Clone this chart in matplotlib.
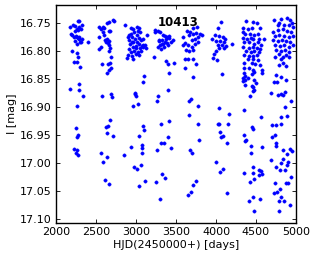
import matplotlib
matplotlib.use("Agg")
import matplotlib.pyplot as plt
import numpy as np

# (HJD-2450000, I mag) per observing season
season1 = [(2175,16.756),(2209,16.752),(2241,16.754),(2271,16.745),(2284,16.746),(2325,16.752),
           (2291,16.756),(2313,16.760),(2271,16.762),(2191,16.768),(2200,16.770),(2234,16.763),
           (2259,16.760),(2229,16.774),(2259,16.774),(2291,16.774),(2325,16.777),(2250,16.772),
           (2279,16.776),(2241,16.782),(2259,16.786),(2300,16.783),(2309,16.784),(2396,16.784),
           (2291,16.778),(2200,16.799),(2259,16.802),(2271,16.810),(2229,16.819),(2259,16.819),
           (2300,16.828),(2175,16.868),(2284,16.859),(2284,16.869),(2341,16.880),(2259,16.898),
           (2254,16.937),(2259,16.953),(2275,16.949),(2229,16.974),(2250,16.982),(2266,16.977),
           (2279,16.986)]
season2 = [(2709,16.744),(2725,16.745),(2666,16.748),(2641,16.750),(2538,16.756),(2591,16.757),
           (2562,16.760),(2604,16.758),(2659,16.764),(2534,16.774),(2604,16.771),(2634,16.777),
           (2666,16.782),(2616,16.780),(2675,16.763),(2591,16.766),(2562,16.792),(2541,16.795),
           (2666,16.789),(2679,16.794),(2654,16.785),(2625,16.783),(2666,16.799),(2687,16.810),
           (2675,16.820),(2646,16.823),(2575,16.823),(2687,16.829),(2634,16.839),(2666,16.833),
           (2571,16.880),(2687,16.876),(2700,16.882),(2675,16.923),(2625,16.936),(2650,16.934),
           (2641,16.946),(2712,16.951),(2559,16.981),(2591,16.998),(2641,16.989),(2616,17.030),
           (2662,17.037)]
season3 = [(2866,16.753),(2938,16.758),(2966,16.760),(3009,16.756),(3041,16.759),(2909,16.770),
           (2938,16.768),(2979,16.765),(3021,16.764),(3054,16.765),(2896,16.774),(2950,16.774),
           (2916,16.780),(2991,16.777),(3034,16.776),(3063,16.780),(3084,16.777),(3137,16.771),
           (2925,16.786),(2966,16.784),(3009,16.784),(3041,16.786),(3084,16.788),(3116,16.789),
           (2909,16.795),(2959,16.792),(3000,16.794),(3050,16.794),(3091,16.792),(3125,16.794),
           (2938,16.801),(2979,16.800),(3021,16.801),(3063,16.800),(2896,16.807),(2950,16.808),
           (3000,16.805),(3041,16.807),(2966,16.813),(2891,16.811),(3000,16.790),(2950,16.783),
           (3070,16.790),(3010,16.770),(3100,16.844),(3084,16.855),(2991,16.874),(3004,16.880),
           (2984,16.877),(2966,16.898),(3025,16.894),(3088,16.934),(3104,16.941),(3041,16.951),
           (2934,16.971),(3075,16.967),(3079,16.973),(2846,16.986),(3071,16.982),(2975,17.006),
           (3012,17.011),(3059,17.004),(3034,17.041),(3116,17.032)]
season4 = [(3241,16.762),(3271,16.764),(3300,16.765),(3237,16.765),(3334,16.770),(3375,16.777),
           (3409,16.776),(3362,16.773),(3391,16.775),(3416,16.773),(3284,16.782),(3291,16.780),
           (3321,16.779),(3325,16.786),(3366,16.784),(3396,16.789),(3434,16.783),(3459,16.780),
           (3341,16.786),(3384,16.785),(3350,16.792),(3300,16.789),(3271,16.792),(3312,16.795),
           (3229,16.810),(3375,16.817),(3396,16.823),(3475,16.821),(3416,16.839),(3396,16.869),
           (3271,16.880),(3259,16.888),(3309,16.929),(3409,16.924),(3396,16.954),(3312,16.963),
           (3354,16.963),(3437,16.973),(3262,16.977),(3329,17.019),(3362,17.027),(3250,17.033),
           (3300,17.064)]
season5 = [(3591,16.775),(3612,16.785),(3634,16.763),(3675,16.765),(3716,16.759),(3759,16.756),
           (3666,16.771),(3709,16.768),(3750,16.767),(3800,16.768),(3696,16.779),(3737,16.777),
           (3779,16.774),(3821,16.771),(3654,16.789),(3696,16.792),(3737,16.786),(3779,16.783),
           (3584,16.788),(3625,16.798),(3666,16.799),(3709,16.798),(3612,16.814),(3716,16.814),
           (3646,16.814),(3616,16.829),(3750,16.823),(3716,16.845),(3659,16.888),(3687,16.886),
           (3771,16.897),(3666,16.914),(3779,16.929),(3791,16.959),(3675,16.976),(3700,16.981),
           (3754,17.032),(3712,17.039),(3687,17.051),(3650,17.057)]
season6 = [(4062,16.747),(4021,16.758),(3991,16.771),(3950,16.778),(4041,16.772),(4084,16.774),
           (4116,16.777),(4000,16.782),(4054,16.782),(4096,16.784),(4021,16.788),(4075,16.789),
           (4125,16.790),(4200,16.786),(4034,16.794),(4104,16.794),(4000,16.800),(3979,16.805),
           (3966,16.811),(4009,16.816),(4071,16.841),(4034,16.901),(4166,16.912),(4029,16.929),
           (4041,16.929),(4154,16.929),(4046,16.945),(4063,16.953),(4091,16.951),(4141,16.964),
           (4000,16.997),(4054,17.016),(4088,17.011),(4134,17.053)]
season7 = [(4375,16.746),(4466,16.748),(4509,16.750),(4341,16.759),(4396,16.760),(4450,16.759),
           (4550,16.758),(4334,16.766),(4366,16.768),(4425,16.768),(4479,16.770),(4521,16.768),
           (4334,16.776),(4384,16.777),(4438,16.776),(4466,16.778),(4541,16.777),(4604,16.777),
           (4354,16.784),(4416,16.784),(4479,16.786),(4521,16.784),(4563,16.788),(4341,16.792),
           (4409,16.794),(4459,16.792),(4509,16.794),(4550,16.795),(4375,16.800),(4438,16.801),
           (4479,16.800),(4534,16.801),(4354,16.807),(4416,16.808),(4466,16.808),(4509,16.807),
           (4396,16.814),(4459,16.814),(4521,16.816),(4354,16.820),(4450,16.821),(4491,16.823),
           (4550,16.824),(4354,16.829),(4416,16.830),(4466,16.833),(4479,16.836),(4575,16.833),
           (4575,16.839),(4366,16.844),(4334,16.847),(4450,16.841),(4479,16.851),(4341,16.853),
           (4500,16.857),(4350,16.838),(4362,16.851),(4404,16.848),(4446,16.862),(4475,16.869),
           (4425,16.880),(4354,16.905),(4559,16.918),(4446,16.935),(4466,16.938),(4362,16.860),
           (4459,16.864),(4466,16.871),(4350,16.950),(4375,16.958),(4366,16.960),(4434,16.970),
           (4438,16.982),(4571,16.971),(4346,17.017),(4425,17.033),(4459,17.017),(4463,17.007),
           (4471,17.028),(4538,17.013),(4534,17.021),(4566,17.014),(4571,17.020),(4459,17.060),
           (4412,17.067),(4550,17.064),(4479,17.085)]
season8 = [(4729,16.744),(4813,16.742),(4884,16.741),(4925,16.744),(4791,16.750),(4854,16.752),
           (4909,16.753),(4959,16.756),(4716,16.765),(4771,16.762),(4834,16.760),(4884,16.764),
           (4938,16.765),(4741,16.772),(4791,16.771),(4854,16.772),(4909,16.774),(4959,16.772),
           (4716,16.780),(4771,16.782),(4825,16.780),(4875,16.782),(4925,16.783),(4741,16.789),
           (4800,16.790),(4854,16.789),(4909,16.792),(4959,16.788),(4750,16.798),(4813,16.800),
           (4866,16.798),(4916,16.801),(4784,16.805),(4875,16.807),(4741,16.810),(4834,16.810),
           (4909,16.810),(4841,16.820),(4784,16.824),(4875,16.827),(4750,16.842),(4813,16.845),
           (4729,16.855),(4759,16.855),(4779,16.753),(4946,16.750),(4809,16.813),(4871,16.852),
           (4684,16.875),(4779,16.878),(4809,16.876),(4834,16.878),(4862,16.872),(4934,16.888),
           (4862,16.899),(4809,16.917),(4884,16.916),(4704,16.932),(4750,16.932),(4813,16.930),
           (4696,16.954),(4741,16.949),(4750,16.963),(4750,16.970),(4841,16.976),(4925,16.974),
           (4950,16.979),(4888,16.984),(4834,16.992),(4816,16.999),(4888,17.004),(4754,17.006),
           (4691,16.994),(4904,16.997),(4804,17.013),(4866,17.013),(4934,17.024),(4741,17.036),
           (4879,17.035),(4900,17.035),(4804,17.046),(4759,17.052),(4721,17.054),(4809,17.061),
           (4854,17.067),(4788,17.067),(4925,17.075),(4788,17.085)]

seasons = [season1, season2, season3, season4, season5, season6, season7, season8]
star_id = "10413"
x_label = "HJD(2450000+) [days]"
y_label = "I [mag]"
x_ticks = [2000, 2500, 3000, 3500, 4000, 4500, 5000]
y_ticks = [16.75, 16.80, 16.85, 16.90, 16.95, 17.00, 17.05, 17.10]

pts = np.array([p for s in seasons for p in s], dtype=float)

fig = plt.figure(figsize=(3.16, 2.59), dpi=100)
ax = fig.add_axes([56/316, 1-223/259, 240/316, 218/259])
ax.plot(pts[:, 0], pts[:, 1], 'o', color='#0000ff', mec='#0000ff', ms=2.4, mew=0.3, ls='none')
ax.set_xlim(2000, 5000)
ax.set_ylim(17.107, 16.717)
ax.set_xticks(x_ticks)
ax.set_yticks(y_ticks)
ax.set_yticklabels([f"{v:.2f}" for v in y_ticks])
ax.tick_params(direction='in', top=True, right=True, length=3, width=0.6, labelsize=8, pad=3)
for sp in ax.spines.values():
    sp.set_linewidth(1.0)
ax.set_xlabel(x_label, fontsize=8, labelpad=2)
ax.set_ylabel(y_label, fontsize=8, labelpad=2)
ax.text(0.51, 0.92, star_id, transform=ax.transAxes, ha='center', va='center',
        fontsize=8.5, fontweight='bold', zorder=5)
fig.savefig("out.png", dpi=100)
